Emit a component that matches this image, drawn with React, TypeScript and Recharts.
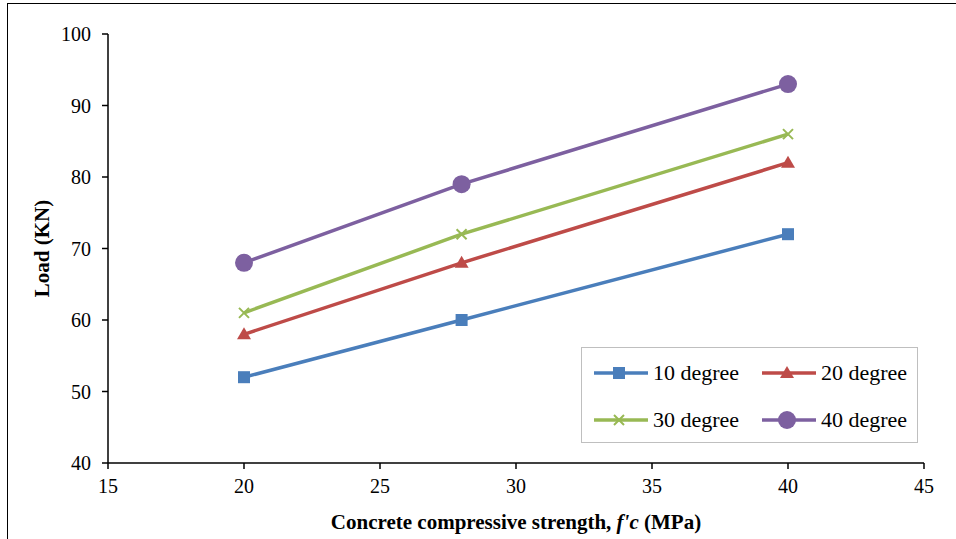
import { LineChart, Line, XAxis, YAxis } from 'recharts'

const FC = [20, 28, 40]
const DEG10 = [52, 60, 72]
const DEG20 = [58, 68, 82]
const DEG30 = [61, 72, 86]
const DEG40 = [68, 79, 93]
const X_TICKS = [15, 20, 25, 30, 35, 40, 45]
const Y_TICKS = [40, 50, 60, 70, 80, 90, 100]

const BLUE   = '#4a7ebb'
const RED    = '#be4b48'
const GREEN  = '#98b954'
const PURPLE = '#7d60a0'

const FONT = '"Liberation Serif", "Times New Roman", serif'
const tickStyle = { fontSize: 20, fill: '#000', fontFamily: FONT }

const data = FC.map((x, i) => ({ x, d10: DEG10[i], d20: DEG20[i], d30: DEG30[i], d40: DEG40[i] }))

type Shape = 'square' | 'triangle' | 'cross' | 'circle'

function Marker({ cx, cy, shape, color }: { cx: number; cy: number; shape: Shape; color: string }) {
  if (shape === 'square') return <rect x={cx - 6} y={cy - 6} width={12} height={12} fill={color} />
  if (shape === 'triangle') return <path d={`M${cx},${cy - 7} L${cx + 7},${cy + 5} L${cx - 7},${cy + 5} Z`} fill={color} />
  if (shape === 'cross') return <path d={`M${cx - 5},${cy - 5} L${cx + 5},${cy + 5} M${cx + 5},${cy - 5} L${cx - 5},${cy + 5}`} stroke={color} strokeWidth={2} />
  return <circle cx={cx} cy={cy} r={9} fill={color} />
}

const SERIES: { key: string; name: string; color: string; shape: Shape }[] = [
  { key: 'd10', name: '10 degree', color: BLUE,   shape: 'square' },
  { key: 'd20', name: '20 degree', color: RED,    shape: 'triangle' },
  { key: 'd30', name: '30 degree', color: GREEN,  shape: 'cross' },
  { key: 'd40', name: '40 degree', color: PURPLE, shape: 'circle' },
]

function LegendBox() {
  return (
    <div style={{ position: 'absolute', left: 581, top: 347, width: 337, height: 96, border: '1px solid #bfbfbf', boxSizing: 'border-box', display: 'grid', gridTemplateColumns: '168px 168px', gridTemplateRows: '47px 47px', paddingTop: 1, background: '#fff' }}>
      {SERIES.map((s) => (
        <div key={s.key} style={{ display: 'flex', alignItems: 'center', fontFamily: FONT, fontSize: 22, color: '#000' }}>
          <svg width={60} height={24} style={{ marginLeft: 11 }}>
            <line x1={1} y1={12} x2={55} y2={12} stroke={s.color} strokeWidth={3.5} />
            <Marker cx={26} cy={12} shape={s.shape} color={s.color} />
          </svg>
          <span>{s.name}</span>
        </div>
      ))}
    </div>
  )
}

function XTitle({ viewBox }: any) {
  const cx = viewBox.x + viewBox.width / 2
  return (
    <text x={cx} y={viewBox.y + 66} textAnchor="middle" fontFamily={FONT} fontSize={21} fontWeight="bold" fill="#000">
      Concrete compressive strength, <tspan fontStyle="italic">f'c</tspan> (MPa)
    </text>
  )
}

function YTitle({ viewBox }: any) {
  const cy = viewBox.y + viewBox.height / 2
  return (
    <text x={49} y={cy} transform={`rotate(-90, 49, ${cy})`} textAnchor="middle" fontFamily={FONT} fontSize={21} fontWeight="bold" fill="#000">
      Load (KN)
    </text>
  )
}

export default function App() {
  return (
    <div style={{ position: 'absolute', left: 0, top: 0, width: 956, height: 539, overflow: 'hidden', background: '#fff' }}>
      <div style={{ position: 'absolute', left: 7, top: 3, width: 980, height: 560, borderLeft: '1.5px solid #000', borderTop: '1.5px solid #000' }} />
      <div style={{ position: 'absolute', left: 0, top: 0 }}>
        <LineChart width={956} height={539} data={data} margin={{ top: 34, right: 32, bottom: 36, left: 48 }}>
          <XAxis
            dataKey="x" type="number" domain={[15, 45]} ticks={X_TICKS}
            stroke="#000" strokeWidth={1.5} tick={tickStyle} tickSize={6} tickMargin={10} height={40}
            label={<XTitle />}
          />
          <YAxis
            type="number" domain={[40, 100]} ticks={Y_TICKS}
            stroke="#000" strokeWidth={1.5} tick={tickStyle} tickSize={6} tickMargin={11} width={60}
            label={<YTitle />}
          />
          {SERIES.map((s) => (
            <Line
              key={s.key} dataKey={s.key} name={s.name} stroke={s.color} strokeWidth={3.5}
              isAnimationActive={false}
              dot={(p: any) => <Marker key={p.index} cx={p.cx} cy={p.cy} shape={s.shape} color={s.color} />}
            />
          ))}
        </LineChart>
      </div>
      <LegendBox />
    </div>
  )
}
